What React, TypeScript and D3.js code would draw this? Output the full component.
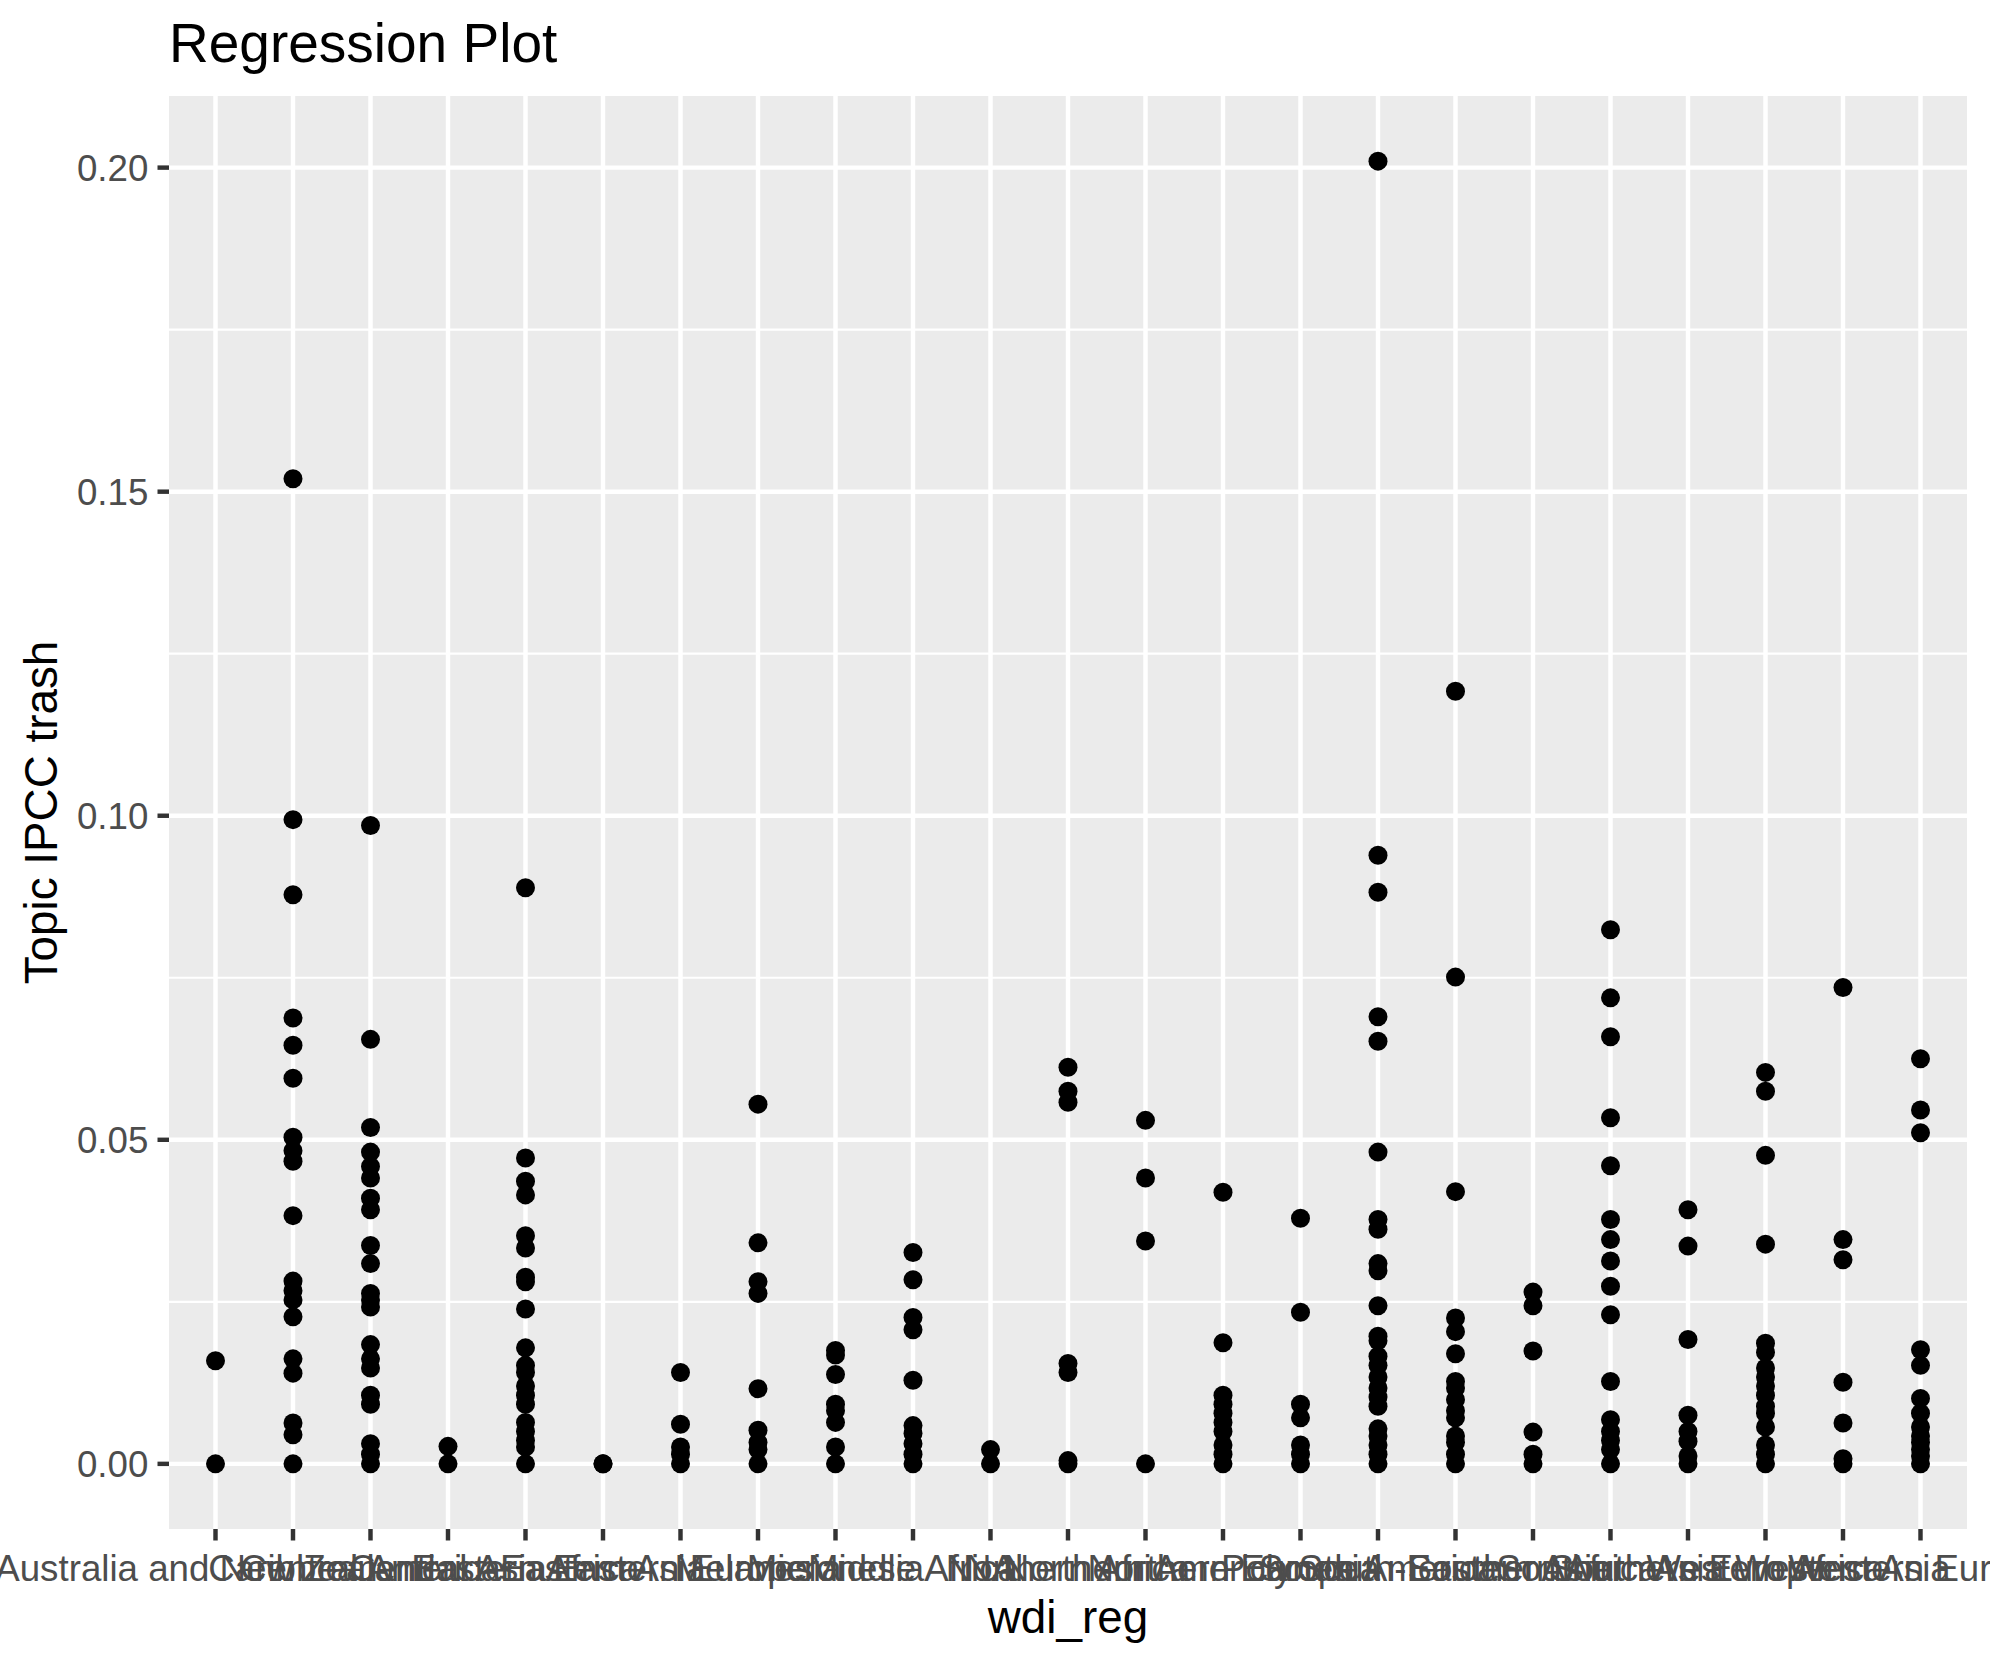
import React from "react";
import * as d3 from "d3";

const categories = [
  "Australia and New Zealand", "Caribbean", "Central America", "Central Asia",
  "Eastern Africa", "Eastern Asia", "Eastern Europe", "Melanesia", "Micronesia",
  "Middle Africa", "NA", "Northern Africa", "Northern America", "Northern Europe",
  "Polynesia", "South America", "South-Eastern Asia", "Southern Africa",
  "Southern Asia", "Southern Europe", "Western Africa", "Western Asia", "Western Europe",
];

const australiaNZ = [0.0159, 0];
const caribbean = [0.152, 0.0994, 0.0878, 0.0688, 0.0646, 0.0595, 0.0504, 0.0483, 0.0467, 0.0383, 0.0282, 0.0267, 0.0253, 0.0227, 0.0162, 0.014, 0.0063, 0.0045, 0];
const centralAmerica = [0.0985, 0.0655, 0.0519, 0.0481, 0.0459, 0.0441, 0.041, 0.0392, 0.0337, 0.0309, 0.0263, 0.0253, 0.0242, 0.0184, 0.0162, 0.0148, 0.0106, 0.0092, 0.0031, 0.0015, 0];
const centralAsia = [0.0027, 0];
const easternAfrica = [0.0889, 0.0472, 0.0436, 0.0415, 0.0352, 0.0333, 0.0288, 0.0281, 0.0239, 0.0179, 0.0152, 0.0141, 0.012, 0.0106, 0.0092, 0.0064, 0.005, 0.0036, 0.0026, 0];
const easternAsia = [0, 0];
const easternEurope = [0.0141, 0.0061, 0.0026, 0.0015, 0];
const melanesia = [0.0555, 0.0341, 0.0281, 0.0263, 0.0116, 0.0052, 0.0033, 0.0022, 0];
const micronesia = [0.0175, 0.0168, 0.0138, 0.0092, 0.0082, 0.0064, 0.0026, 0];
const middleAfrica = [0.0326, 0.0284, 0.0226, 0.0207, 0.0129, 0.0059, 0.0047, 0.0031, 0.0015, 0];
const naRegion = [0.0022, 0];
const northernAfrica = [0.0612, 0.0575, 0.0558, 0.0155, 0.0141, 0.0005, 0];
const northernAmerica = [0.053, 0.0441, 0.0344, 0];
const northernEurope = [0.0419, 0.0187, 0.0106, 0.0092, 0.0078, 0.0064, 0.005, 0.0029, 0.0015, 0];
const polynesia = [0.0379, 0.0234, 0.0092, 0.0071, 0.0029, 0.0015, 0];
const southAmerica = [0.201, 0.0939, 0.0882, 0.069, 0.0652, 0.0481, 0.0377, 0.0362, 0.0309, 0.0298, 0.0244, 0.0197, 0.019, 0.0166, 0.0152, 0.0134, 0.0117, 0.0103, 0.0089, 0.0054, 0.0043, 0.0029, 0.0015, 0];
const southEasternAsia = [0.1192, 0.0751, 0.042, 0.0225, 0.0204, 0.017, 0.0127, 0.0117, 0.0099, 0.0082, 0.0071, 0.0043, 0.0033, 0.0015, 0];
const southernAfrica = [0.0265, 0.0244, 0.0174, 0.0049, 0.0015, 0];
const southernAsia = [0.0824, 0.0719, 0.0659, 0.0534, 0.046, 0.0377, 0.0346, 0.0313, 0.0274, 0.023, 0.0127, 0.0068, 0.005, 0.0036, 0.0022, 0];
const southernEurope = [0.0392, 0.0336, 0.0192, 0.0075, 0.005, 0.0035, 0.0012, 0];
const westernAfrica = [0.0604, 0.0575, 0.0476, 0.0339, 0.0186, 0.0172, 0.0148, 0.0134, 0.012, 0.0106, 0.0089, 0.0078, 0.0057, 0.0029, 0.0015, 0];
const westernAsia = [0.0735, 0.0346, 0.0315, 0.0126, 0.0063, 0.0008, 0];
const westernEurope = [0.0625, 0.0546, 0.0511, 0.0176, 0.0152, 0.0101, 0.0078, 0.0057, 0.0043, 0.0033, 0.0022, 0.0012, 0];

const seriesByCategory = [
  australiaNZ, caribbean, centralAmerica, centralAsia, easternAfrica, easternAsia,
  easternEurope, melanesia, micronesia, middleAfrica, naRegion, northernAfrica,
  northernAmerica, northernEurope, polynesia, southAmerica, southEasternAsia,
  southernAfrica, southernAsia, southernEurope, westernAfrica, westernAsia, westernEurope,
];

const yTicks = [0, 0.05, 0.1, 0.15, 0.2];
const yMinor = [0.025, 0.075, 0.125, 0.175];

const W = 1990;
const H = 1665;
const panel = { left: 169, right: 1967, top: 96, bottom: 1529 };
const FONT = "'Liberation Sans', Arial, Helvetica, sans-serif";

export default function App() {
  const points = seriesByCategory.flatMap((vals, i) =>
    vals.map((v) => ({ cat: categories[i], v }))
  );
  const vMax = d3.max(points, (d) => d.v) as number;
  const vMin = d3.min(points, (d) => d.v) as number;
  const span = vMax - vMin;

  const x = d3.scalePoint<string>().domain(categories).range([panel.left, panel.right]).padding(0.6);
  const y = d3
    .scaleLinear()
    .domain([vMin - 0.05 * span, vMax + 0.05 * span])
    .range([panel.bottom, panel.top]);

  const majorW = 4.45;
  const minorW = 2.2;
  const tickLen = 11.5;

  return (
    <svg
      width={W}
      height={H}
      style={{ position: "fixed", left: 0, top: 0, display: "block", background: "#fff" }}
      fontFamily={FONT}
    >
      <rect x={0} y={0} width={W} height={H} fill="#ffffff" />
      <rect
        x={panel.left}
        y={panel.top}
        width={panel.right - panel.left}
        height={panel.bottom - panel.top}
        fill="#EBEBEB"
      />
      {yMinor.map((t) => (
        <line key={"mn" + t} x1={panel.left} x2={panel.right} y1={y(t)} y2={y(t)} stroke="#fff" strokeWidth={minorW} />
      ))}
      {yTicks.map((t) => (
        <line key={"mj" + t} x1={panel.left} x2={panel.right} y1={y(t)} y2={y(t)} stroke="#fff" strokeWidth={majorW} />
      ))}
      {categories.map((c) => (
        <line key={"vx" + c} x1={x(c)} x2={x(c)} y1={panel.top} y2={panel.bottom} stroke="#fff" strokeWidth={majorW} />
      ))}
      {points.map((p, i) => (
        <circle key={i} cx={x(p.cat)} cy={y(p.v)} r={9.5} fill="#000" />
      ))}
      {/* y axis */}
      {yTicks.map((t) => (
        <g key={"yt" + t}>
          <line x1={panel.left - tickLen} x2={panel.left} y1={y(t)} y2={y(t)} stroke="#333333" strokeWidth={majorW} />
          <text
            x={panel.left - tickLen - 9.2}
            y={y(t)}
            dy="0.36em"
            textAnchor="end"
            fontSize={36.7}
            fill="#4D4D4D"
          >
            {d3.format(".2f")(t)}
          </text>
        </g>
      ))}
      {/* x axis */}
      {categories.map((c) => (
        <g key={"xt" + c}>
          <line x1={x(c)} x2={x(c)} y1={panel.bottom} y2={panel.bottom + tickLen} stroke="#333333" strokeWidth={majorW} />
          <text x={x(c)} y={1581} textAnchor="middle" fontSize={36.7} fill="#4D4D4D">
            {c}
          </text>
        </g>
      ))}
      <text x={(panel.left + panel.right) / 2} y={1633} textAnchor="middle" fontSize={45.8} fill="#000">
        wdi_reg
      </text>
      <text
        transform={`translate(57, ${(panel.top + panel.bottom) / 2}) rotate(-90)`}
        textAnchor="middle"
        fontSize={45.8}
        fill="#000"
      >
        Topic IPCC trash
      </text>
      <text x={panel.left} y={62} fontSize={55} fill="#000">
        Regression Plot
      </text>
    </svg>
  );
}
